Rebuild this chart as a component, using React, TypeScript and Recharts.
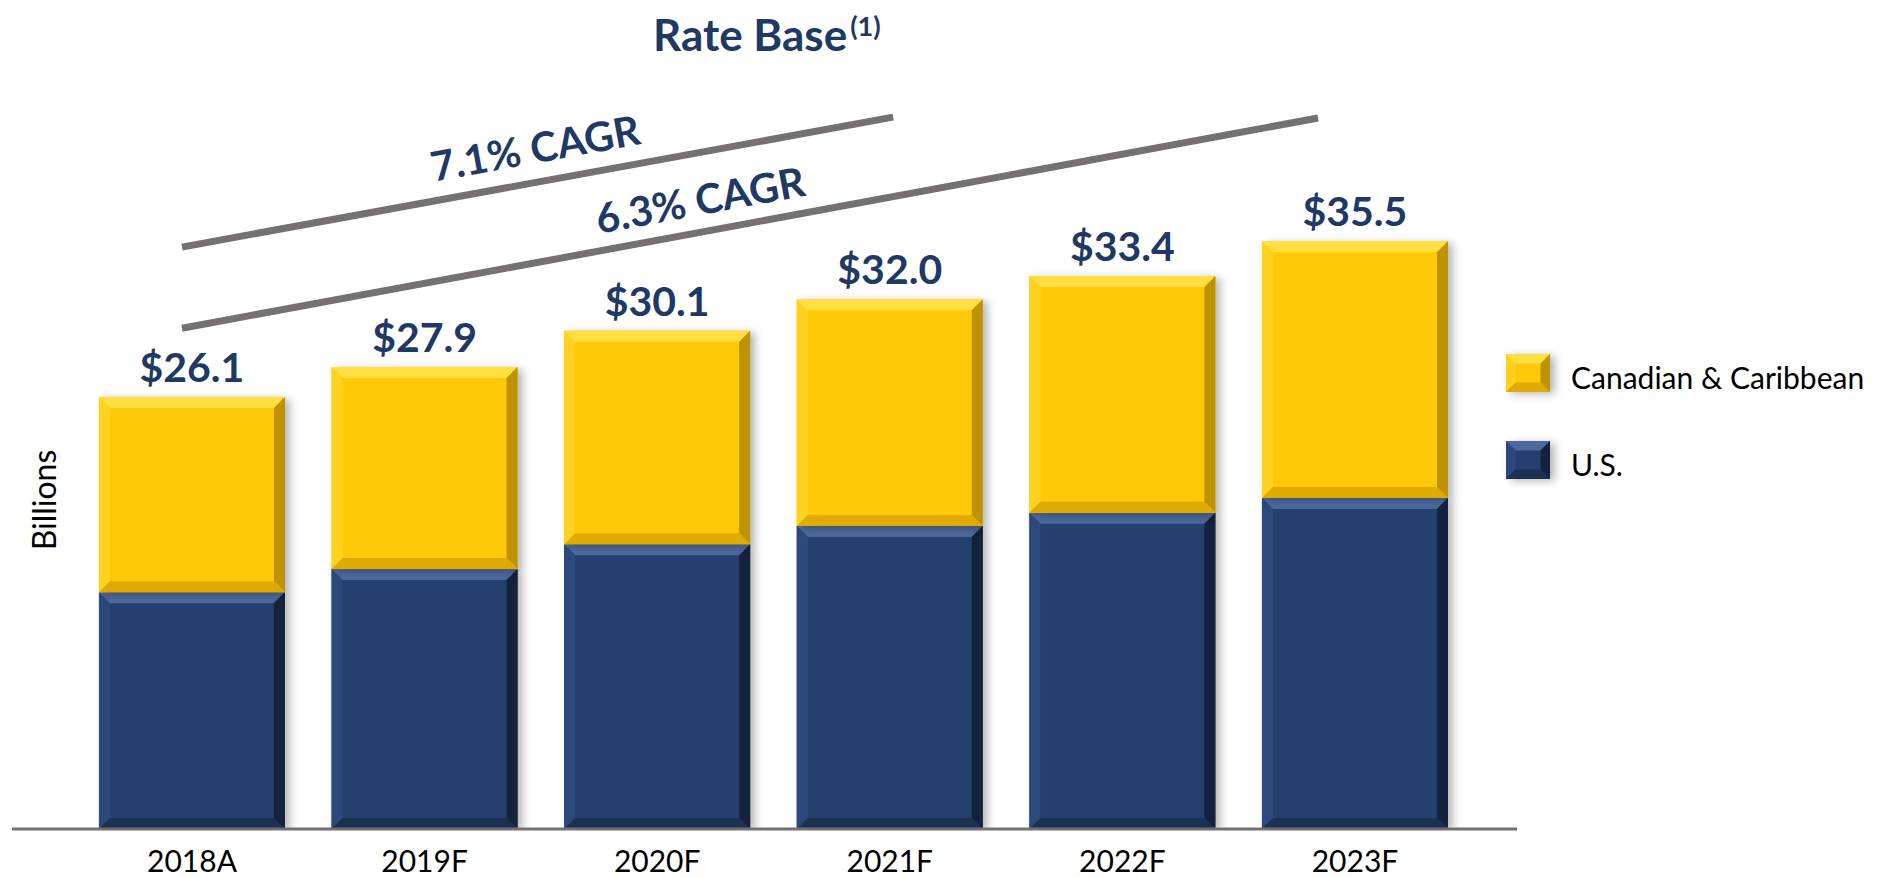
import React from "react";
import { BarChart, Bar, XAxis, YAxis, LabelList, ReferenceLine } from "recharts";

// values (billions)
const years = ["2018A", "2019F", "2020F", "2021F", "2022F", "2023F"];
const usValues = [14.3, 15.7, 17.2, 18.3, 19.1, 20.0];
const canValues = [11.8, 12.2, 12.9, 13.7, 14.3, 15.5];
const totals = [26.1, 27.9, 30.1, 32.0, 33.4, 35.5];

const seriesNames = ["Canadian & Caribbean", "U.S."];
const cagrLabels = ["7.1% CAGR", "6.3% CAGR"];

// CAGR annotation lines, anchored on categories (y in billions)
const cagrSegments = [
  [{ x: "2018A", y: 35.26 }, { x: "2021F", y: 42.96 }],
  [{ x: "2018A", y: 30.36 }, { x: "2023F", y: 43.36 }],
];
// trim / extend along each segment, label spot and lift above line (px)
const cagrTrim = [
  { start: -0.0143, end: 1.0047, label: 0.4917, lift: 35 },
  { start: -0.0086, end: 0.9682, label: 0.4368, lift: 33 },
];

const NAVY_TEXT = "#203864";
const GREY = "#767171";
const FONT = "Lato, 'Open Sans', sans-serif";

const yellow = { face: "#FFC908", top: "#FFE040", left: "#FFD21F", right: "#BF9200", bottom: "#E0AA00" };
const navy = { face: "#253F6E", top: "#4D689C", left: "#2D497B", right: "#14223D", bottom: "#1C3054" };

const data = years.map((year, i) => ({
  year,
  us: usValues[i],
  can: canValues[i],
  total: totals[i],
}));

type Palette = typeof yellow;

function BevelBox({ x, y, width, height, p, shadow = true }: any) {
  const w = width;
  const h = height;
  if (!w || !h) return null;
  const b = Math.min(11, w / 4, h / 4);
  return (
    <g>
      <defs>
        <filter id="bevelShadow" x="-20%" y="-20%" width="140%" height="140%">
          <feGaussianBlur stdDeviation="4" />
        </filter>
      </defs>
      {shadow && (
        <rect x={x + 5} y={y + 2} width={w} height={h} fill="#000" opacity={0.28} filter="url(#bevelShadow)" />
      )}
      <rect x={x} y={y} width={w} height={h} fill={p.face} />
      <polygon points={`${x},${y} ${x + w},${y} ${x + w - b},${y + b} ${x + b},${y + b}`} fill={p.top} />
      <polygon points={`${x},${y} ${x + b},${y + b} ${x + b},${y + h - b} ${x},${y + h}`} fill={p.left} />
      <polygon points={`${x + w},${y} ${x + w},${y + h} ${x + w - b},${y + h - b} ${x + w - b},${y + b}`} fill={p.right} />
      <polygon points={`${x},${y + h} ${x + b},${y + h - b} ${x + w - b},${y + h - b} ${x + w},${y + h}`} fill={p.bottom} />
    </g>
  );
}

const shapeFor = (p: Palette) => (props: any) =>
  <BevelBox x={props.x} y={props.y} width={props.width} height={props.height} p={p} />;

function TotalLabel(props: any) {
  const { x, y, width, value } = props;
  return (
    <text
      x={x + width / 2}
      y={y - 15}
      textAnchor="middle"
      fill={NAVY_TEXT}
      fontFamily={FONT}
      fontWeight={700}
      fontSize={41}
    >
      {`$${Number(value).toFixed(1)}`}
    </text>
  );
}

const cagrShape = (label: string, trim: { start: number; end: number; label: number; lift: number }) =>
  (props: any) => {
    const { x1, y1, x2, y2 } = props;
    const px = (t: number) => x1 + (x2 - x1) * t;
    const py = (t: number) => y1 + (y2 - y1) * t;
    const angle = (Math.atan2(y2 - y1, x2 - x1) * 180) / Math.PI;
    const tx = px(trim.label);
    const ty = py(trim.label) - trim.lift;
    return (
      <g>
        <line x1={px(trim.start)} y1={py(trim.start)} x2={px(trim.end)} y2={py(trim.end)} stroke={GREY} strokeWidth={7} />
        <text
          x={tx}
          y={ty}
          transform={`rotate(${angle} ${tx} ${ty})`}
          textAnchor="middle"
          dominantBaseline="central"
          fill={NAVY_TEXT}
          fontFamily={FONT}
          fontWeight={700}
          fontSize={41}
        >
          {label}
        </text>
      </g>
    );
  };

export default function App() {
  const legendPalettes = [yellow, navy];
  return (
    <div style={{ position: "relative", width: 1869, height: 869, fontFamily: FONT }}>
      <BarChart
        width={1869}
        height={869}
        data={data}
        barCategoryGap="10%"
        margin={{ top: 76, right: 360, bottom: 0, left: 4 }}
      >
        <XAxis
          dataKey="year"
          interval={0}
          height={48}
          padding={{ left: 63.7, right: 45.7 }}
          axisLine={{ stroke: GREY, strokeWidth: 3 }}
          tickLine={false}
          tickSize={0}
          tickMargin={22}
          tick={{ fill: "#000", fontSize: 30, fontFamily: FONT }}
        />
        <YAxis type="number" domain={[0, 45]} allowDataOverflow width={0} hide />
        <Bar dataKey="us" name={seriesNames[1]} stackId="rb" fill={navy.face} shape={shapeFor(navy)} isAnimationActive={false} />
        <Bar dataKey="can" name={seriesNames[0]} stackId="rb" fill={yellow.face} shape={shapeFor(yellow)} isAnimationActive={false}>
          <LabelList dataKey="total" content={TotalLabel} />
        </Bar>
        {cagrSegments.map((seg, i) => (
          <ReferenceLine
            key={`cagr-${i}`}
            segment={seg}
            ifOverflow="visible"
            shape={cagrShape(cagrLabels[i], cagrTrim[i])}
          />
        ))}
      </BarChart>

      <div
        style={{
          position: "absolute",
          left: 645,
          top: 2,
          fontSize: 44,
          fontWeight: 700,
          color: NAVY_TEXT,
          lineHeight: 1.1,
          whiteSpace: "nowrap",
        }}
      >
        Rate Base
        <span style={{ fontSize: 27, position: "relative", top: -15, marginLeft: 3 }}>(1)</span>
      </div>

      <svg
        width={80}
        height={869}
        style={{ position: "absolute", left: 0, top: 0, pointerEvents: "none" }}
      >
        <text
          x={35.5}
          y={492}
          transform="rotate(-90 35.5 492)"
          textAnchor="middle"
          dominantBaseline="central"
          fill="#000"
          fontFamily={FONT}
          fontSize={32}
        >
          Billions
        </text>
      </svg>

      {seriesNames.map((name, i) => (
        <div
          key={name}
          style={{
            position: "absolute",
            left: 1498,
            top: 350 + i * 87,
            height: 38,
            display: "flex",
            alignItems: "center",
            whiteSpace: "nowrap",
          }}
        >
          <svg width={56} height={46} style={{ marginRight: 9, overflow: "visible" }}>
            <BevelBox x={0} y={0} width={44} height={38} p={legendPalettes[i]} />
          </svg>
          <span style={{ fontSize: 30, color: "#000", lineHeight: 1 }}>{name}</span>
        </div>
      ))}
    </div>
  );
}
